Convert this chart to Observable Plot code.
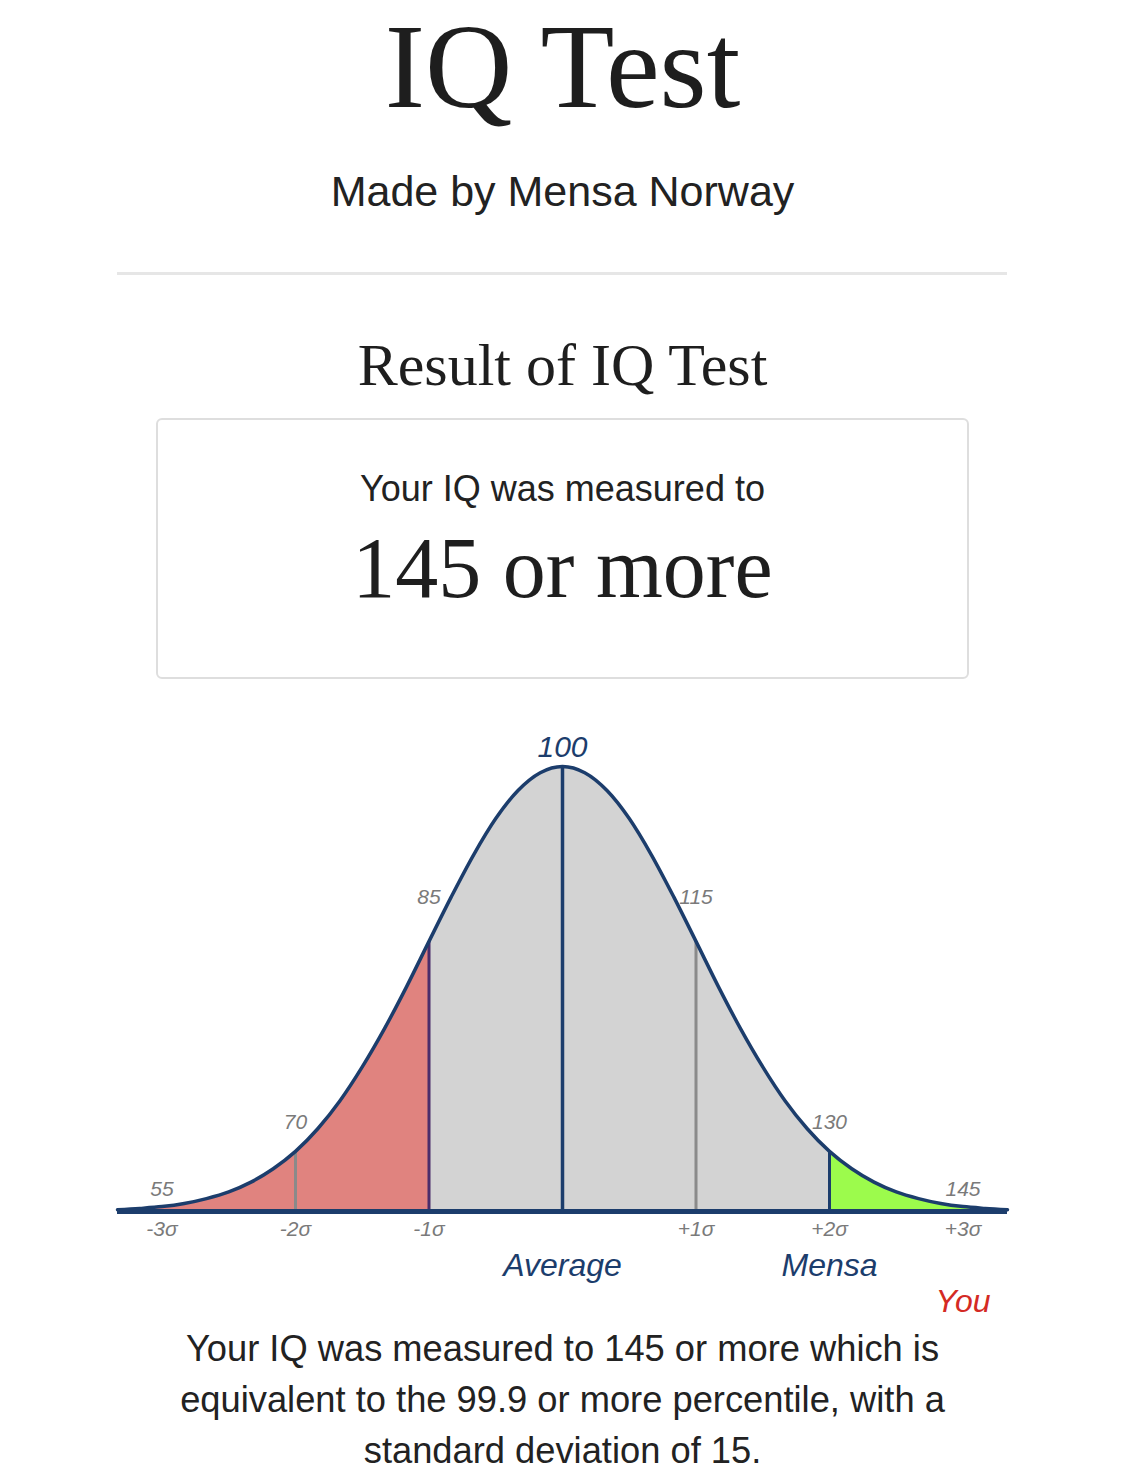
<!DOCTYPE html>
<html><head><meta charset="utf-8">
<script src="https://cdn.jsdelivr.net/npm/d3@7"></script>
<script src="https://cdn.jsdelivr.net/npm/@observablehq/plot@0.6"></script>
<style>
body{margin:0;background:#fff;width:1125px;height:1474px;position:relative;overflow:hidden;font-family:"Liberation Sans",Arial,Helvetica,sans-serif;color:#222}
.abs{position:absolute;left:0;width:1125px;text-align:center;line-height:1;white-space:nowrap}
.serif{font-family:"Liberation Serif","Times New Roman",serif;color:#1e1e1e}
#title{top:6px;font-size:121px}
#subtitle{top:170px;font-size:43px;color:#222}
#rule{position:absolute;left:117px;top:272px;width:890px;height:3px;background:#e6e6e6}
#result{top:335px;font-size:60px}
#box{position:absolute;left:156px;top:418px;width:813px;height:261px;box-sizing:border-box;border:2px solid #dedede;border-radius:6px}
#measured{top:471px;font-size:36px;color:#222}
#score{top:525px;font-size:86px}
#chart{position:absolute;left:0;top:718px}
#para{position:absolute;left:0;top:1323px;width:1125px;text-align:center;font-size:36.3px;line-height:51px;color:#222;white-space:nowrap}
</style></head><body>
<div class="abs serif" id="title">IQ Test</div>
<div class="abs" id="subtitle">Made by Mensa Norway</div>
<div id="rule"></div>
<div class="abs serif" id="result">Result of IQ Test</div>
<div id="box"></div>
<div class="abs" id="measured">Your IQ was measured to</div>
<div class="abs serif" id="score">145 or more</div>
<div id="chart"></div>
<div id="para">Your IQ was measured to 145 or more which is<br>equivalent to the 99.9 or more percentile, with a<br>standard deviation of 15.</div>
<script>
// IQ scores along the curve and the curve height (% of peak)
const iqScores = [50,52.5,55,57.5,60,62.5,65,67.5,70,72.5,75,77.5,80,82.5,85,87.5,90,92.5,95,97.5,100,
  102.5,105,107.5,110,112.5,115,117.5,120,122.5,125,127.5,130,132.5,135,137.5,140,142.5,145,147.5,150];
const curveHeight = [0.4,0.7,1.1,1.8,2.9,4.4,6.6,9.6,13.5,18.6,24.9,32.5,41.1,50.6,60.7,70.7,80.1,88.3,94.6,98.6,100,
  98.6,94.6,88.3,80.1,70.7,60.7,50.6,41.1,32.5,24.9,18.6,13.5,9.6,6.6,4.4,2.9,1.8,1.1,0.7,0.4];
const tickScores = [55,70,85,100,115,130,145];
const sigmaLabels = ["-3σ","-2σ","-1σ","","+1σ","+2σ","+3σ"];
const markerScores = [100,130,145];
const markerLabels = ["Average","Mensa","You"];
const dividerScores = [70,85,100,115,130];
const bandBreaks = [85,130];

const curve = iqScores.map((x,i)=>({x, y: curveHeight[i]}));
const hAt = x => curve.find(d=>d.x===x).y;

const NAVY = "#1c3d6c";
const sans = "Liberation Sans, Arial, Helvetica, sans-serif";

const dividerColor = {70:"#8a8a8a",85:"#4a2d6b",100:NAVY,115:"#8a8a8a",130:NAVY};
const labelOffset = {1:-308, 2:-83, 3:-16};

const marks = [
  Plot.areaY(curve.filter(d=>d.x<=bandBreaks[0]), {x:"x", y:"y", fill:"#e0837f", curve:"monotone-x"}),
  Plot.areaY(curve.filter(d=>d.x>=bandBreaks[0] && d.x<=bandBreaks[1]), {x:"x", y:"y", fill:"#d3d3d3", curve:"monotone-x"}),
  Plot.areaY(curve.filter(d=>d.x>=bandBreaks[1]), {x:"x", y:"y", fill:"#9cfb4c", curve:"monotone-x"}),
  ...dividerScores.map(s => Plot.ruleX([s], {x:d=>d, y1:0, y2:d=>hAt(d), stroke:dividerColor[s], strokeWidth: s===100?3.5:3})),
  Plot.line(curve, {x:"x", y:"y", stroke:NAVY, strokeWidth:3.5, curve:"monotone-x"}),
  Plot.ruleY([0], {stroke:NAVY, strokeWidth:5}),
  // tick value labels (gray italic), except 100
  ...[1,2,3].map(k => Plot.text(tickScores.filter(s=>Math.abs(s-100)===15*k), {
    x:d=>d, y:0, text:d=>String(d), dy:labelOffset[k], lineAnchor:"bottom",
    fill:"#7a7a7a", fontSize:21, fontStyle:"italic", fontFamily:sans})),
  Plot.text([100], {x:d=>d, y:d=>hAt(d), text:d=>String(d), dy:-10, lineAnchor:"bottom",
    fill:NAVY, fontSize:30, fontStyle:"italic", fontFamily:sans}),
  Plot.text(tickScores.map((s,i)=>({s, t:sigmaLabels[i]})).filter(d=>d.t), {
    x:"s", y:0, text:"t", dy:24, lineAnchor:"bottom",
    fill:"#7a7a7a", fontSize:21, fontStyle:"italic", fontFamily:sans}),
  Plot.text(markerScores.slice(0,2).map((s,i)=>({s, t:markerLabels[i]})), {
    x:"s", y:0, text:"t", dy:64, lineAnchor:"bottom",
    fill:NAVY, fontSize:32, fontStyle:"italic", fontFamily:sans}),
  Plot.text([{s:markerScores[2], t:markerLabels[2]}], {
    x:"s", y:0, text:"t", dy:100, lineAnchor:"bottom",
    fill:"#d42a24", fontSize:32, fontStyle:"italic", fontFamily:sans})
];

const chart = Plot.plot({
  width:1125, height:600,
  marginLeft:117, marginRight:118, marginTop:48, marginBottom:107,
  x:{domain:[50,150], axis:null},
  y:{domain:[0,100], axis:null},
  style:{background:"transparent", overflow:"visible"},
  marks
});
document.getElementById("chart").appendChild(chart);
</script>
</body></html>
